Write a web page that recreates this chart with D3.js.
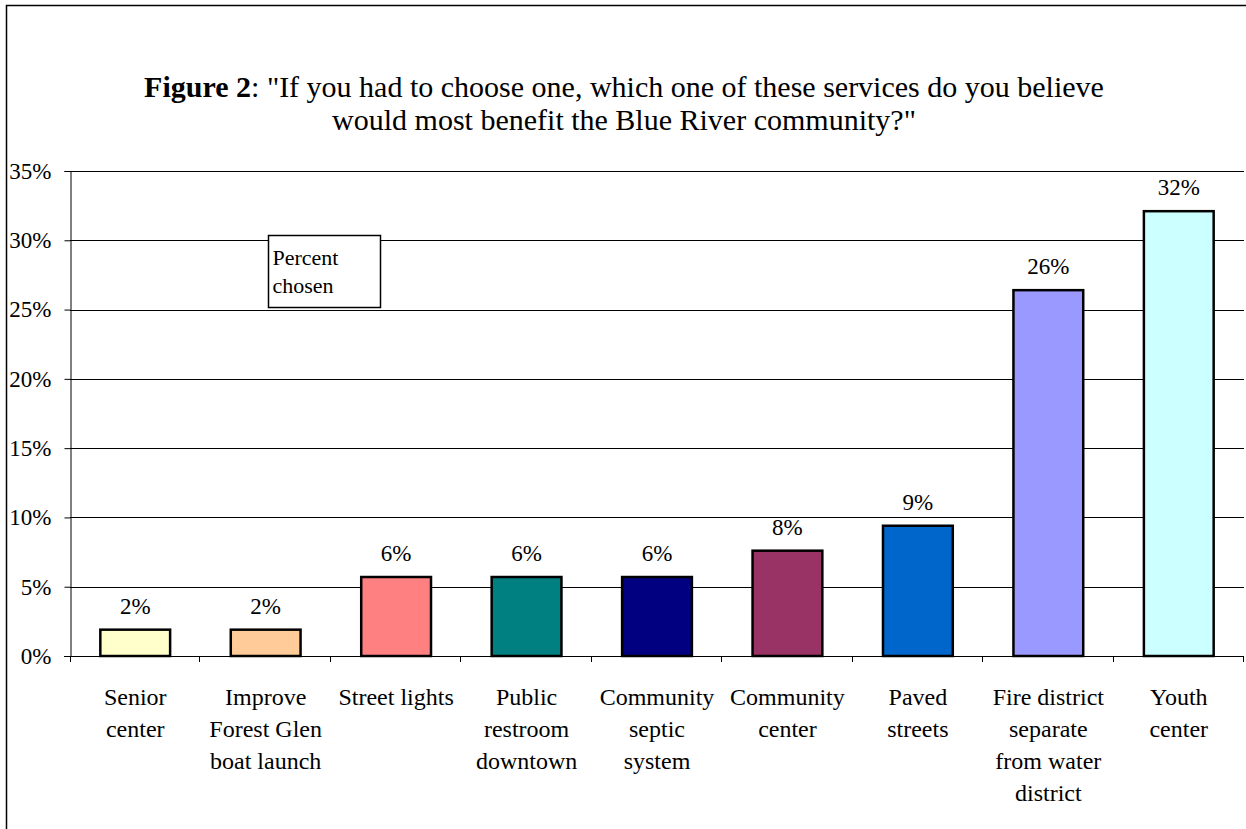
<!DOCTYPE html>
<html>
<head>
<meta charset="utf-8">
<script src="https://cdn.jsdelivr.net/npm/d3@7"></script>
<style>
  body { margin: 0; background: #fff; }
  svg, svg text { font-family: "Liberation Serif", "Times New Roman", serif; }
  svg { display: block; }
</style>
</head>
<body>
<div id="chart"></div>
<script>
var categories = [
  ["Senior", "center"],
  ["Improve", "Forest Glen", "boat launch"],
  ["Street lights"],
  ["Public", "restroom", "downtown"],
  ["Community", "septic", "system"],
  ["Community", "center"],
  ["Paved", "streets"],
  ["Fire district", "separate", "from water", "district"],
  ["Youth", "center"]
];
var values = [1.9, 1.9, 5.7, 5.7, 5.7, 7.6, 9.4, 26.4, 32.1];
var barLabels = ["2%", "2%", "6%", "6%", "6%", "8%", "9%", "26%", "32%"];
var colors = ["#FFFFCC", "#FFCC99", "#FF8080", "#008080", "#000080", "#993366", "#0066CC", "#9999FF", "#CCFFFF"];
var yTicks = [0, 5, 10, 15, 20, 25, 30, 35];

var width = 1246, height = 829;
var margin = {top: 171, right: 2, bottom: 173, left: 70};
var w = width - margin.left - margin.right,
  h = height - margin.top - margin.bottom;

var svg = d3.select("#chart").append("svg")
  .attr("width", width)
  .attr("height", height);

// outer frame
svg.append("path")
  .attr("d", "M6.5," + height + "V5.5H" + width)
  .attr("fill", "none")
  .attr("stroke", "#000")
  .attr("stroke-width", 1.5);

var title = svg.append("text")
  .attr("text-anchor", "middle")
  .attr("font-size", 30);
var t1 = title.append("tspan").attr("x", 624).attr("y", 97);
t1.append("tspan").attr("font-weight", "bold").text("Figure 2");
t1.append("tspan").text(": \"If you had to choose one, which one of these services do you believe");
title.append("tspan").attr("x", 624).attr("y", 130)
  .text("would most benefit the Blue River community?\"");

var g = svg.append("g")
  .attr("transform", "translate(" + margin.left + "," + margin.top + ")");

var x = d3.scaleBand()
  .domain(d3.range(categories.length))
  .range([0, w])
  .paddingInner(0.465)
  .paddingOuter(0.2325);

var xTicks = d3.scaleBand()
  .domain(d3.range(categories.length))
  .range([0, w]);

var y = d3.scaleLinear()
  .domain([0, 35])
  .range([h, 0]);

// gridlines
g.selectAll(".grid")
  .data(yTicks.slice(1))
  .enter().append("line")
  .attr("class", "grid")
  .attr("x1", 0)
  .attr("x2", w)
  .attr("y1", function(d) { return Math.round(y(d)) + 0.5; })
  .attr("y2", function(d) { return Math.round(y(d)) + 0.5; })
  .attr("stroke", "#000")
  .attr("stroke-width", 1);

// y axis
var yAxis = d3.axisLeft(y)
  .tickValues(yTicks)
  .tickSize(6)
  .tickFormat(function(d) { return d + "%"; });

var ya = g.append("g")
  .attr("class", "y-axis")
  .attr("transform", "translate(0.5,0)")
  .call(yAxis);
ya.attr("font-family", null).attr("font-size", null);
ya.select(".domain").attr("stroke", "#000");
ya.selectAll("text")
  .attr("font-size", 23)
  .attr("fill", "#000")
  .attr("x", -19);
ya.selectAll("line").attr("stroke", "#000");

// bars
g.selectAll(".bar")
  .data(values)
  .enter().append("rect")
  .attr("class", "bar")
  .attr("x", function(d, i) { return x(i); })
  .attr("y", function(d) { return y(d); })
  .attr("width", x.bandwidth())
  .attr("height", function(d) { return h - y(d); })
  .attr("fill", function(d, i) { return colors[i]; })
  .attr("stroke", "#000")
  .attr("stroke-width", 2.5);

// value labels
g.selectAll(".val")
  .data(values)
  .enter().append("text")
  .attr("class", "val")
  .attr("x", function(d, i) { return x(i) + x.bandwidth() / 2; })
  .attr("y", function(d) { return y(d) - 16; })
  .attr("text-anchor", "middle")
  .attr("font-size", 23)
  .text(function(d, i) { return barLabels[i]; });

// x axis line + ticks
g.append("line")
  .attr("x1", -6)
  .attr("x2", w)
  .attr("y1", h + 0.5)
  .attr("y2", h + 0.5)
  .attr("stroke", "#000");

g.selectAll(".xtick")
  .data(d3.range(categories.length + 1))
  .enter().append("line")
  .attr("class", "xtick")
  .attr("x1", function(d) { return Math.round(d < categories.length ? xTicks(d) : w) - 0.5 + (d == 0 ? 1 : 0); })
  .attr("x2", function(d) { return Math.round(d < categories.length ? xTicks(d) : w) - 0.5 + (d == 0 ? 1 : 0); })
  .attr("y1", h)
  .attr("y2", h + 6)
  .attr("stroke", "#000");

// category labels
var cat = g.selectAll(".cat")
  .data(categories)
  .enter().append("text")
  .attr("class", "cat")
  .attr("text-anchor", "middle")
  .attr("font-size", 24);
cat.each(function(lines, i) {
  var t = d3.select(this);
  lines.forEach(function(line, j) {
    t.append("tspan")
      .attr("x", xTicks(i) + xTicks.bandwidth() / 2)
      .attr("y", h + 49 + j * 32)
      .text(line);
  });
});

// legend box
var legend = svg.append("g").attr("transform", "translate(268.5,235.5)");
legend.append("rect")
  .attr("width", 112)
  .attr("height", 72)
  .attr("fill", "#fff")
  .attr("stroke", "#000")
  .attr("stroke-width", 1.5);
legend.append("text").attr("x", 4).attr("y", 29).attr("font-size", 22).text("Percent");
legend.append("text").attr("x", 4).attr("y", 57).attr("font-size", 22).text("chosen");
</script>
</body>
</html>
